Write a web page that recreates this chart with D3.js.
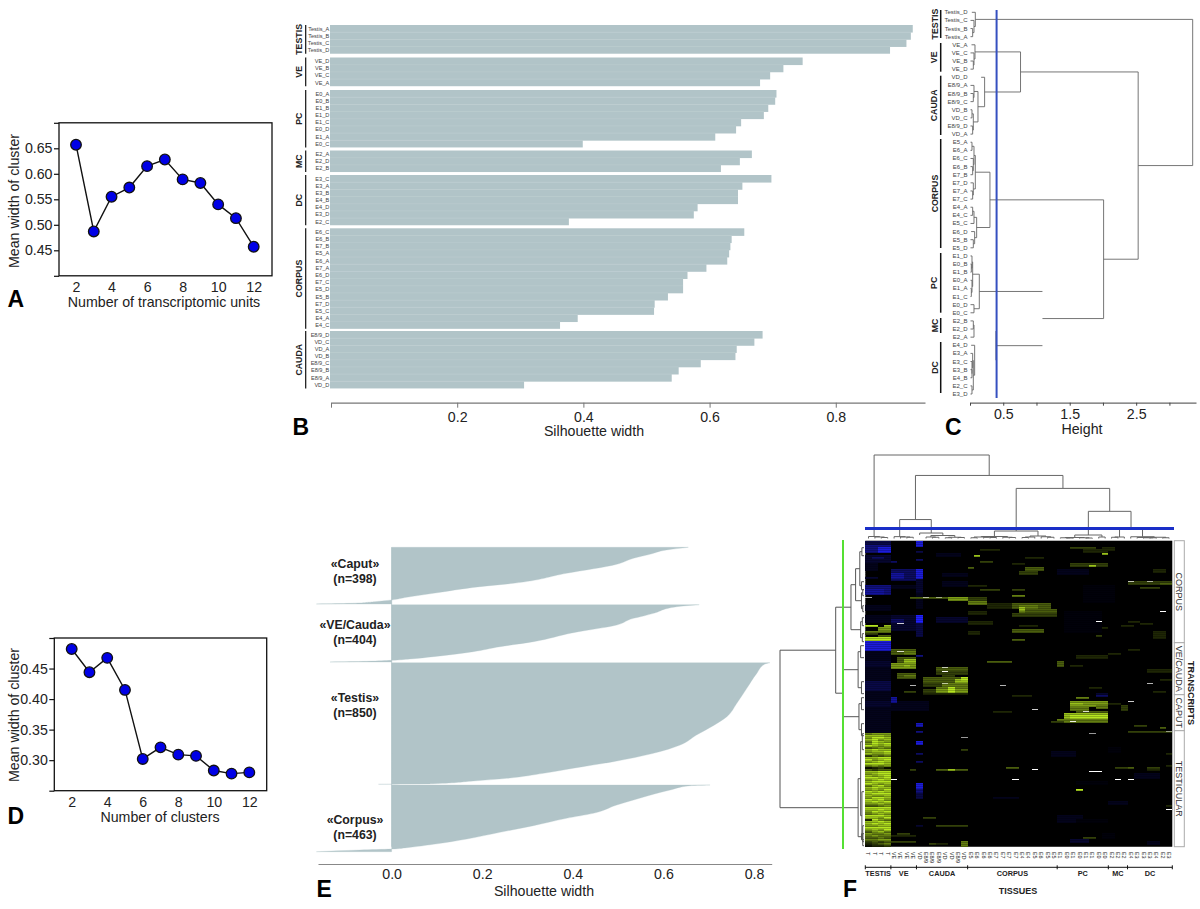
<!DOCTYPE html>
<html><head><meta charset="utf-8">
<script src="https://cdn.jsdelivr.net/npm/d3@7"></script>
<style>
html,body{margin:0;padding:0;background:#fff}
svg{display:block}
text{font-family:"Liberation Sans",Arial,sans-serif;fill:#222}
</style></head><body><svg id="c" width="1200" height="909"></svg>
<script>
// ---------- Panel A / D ----------
const unitsK=[2,3,4,5,6,7,8,9,10,11,12];
const widthA=[.657,.487,.555,.573,.615,.628,.589,.582,.54,.513,.457];
const widthD=[.482,.444,.4675,.415,.302,.321,.309,.307,.283,.278,.280];
// ---------- Panel B ----------
const groupNames=["TESTIS","VE","PC","MC","DC","CORPUS","CAUDA"];
const bSamples=[
 ["Testis_A","Testis_B","Testis_C","Testis_D"],
 ["VE_D","VE_B","VE_C","VE_A"],
 ["E0_A","E0_B","E1_B","E1_D","E1_C","E0_D","E1_A","E0_C"],
 ["E2_A","E2_D","E2_B"],
 ["E3_C","E3_A","E3_B","E4_B","E4_D","E3_D","E2_C"],
 ["E6_C","E6_B","E7_B","E5_A","E6_A","E7_A","E6_D","E7_C","E5_D","E5_B","E7_D","E5_C","E4_A","E4_C"],
 ["E8/9_D","VD_C","VD_A","VD_B","E8/9_C","E8/9_B","E8/9_A","VD_D"]];
const bWidths=[
 [.922,.919,.912,.886],
 [.7475,.717,.696,.680],
 [.706,.704,.693,.686,.650,.642,.609,.399],
 [.667,.648,.618],
 [.698,.652,.645,.645,.581,.575,.377],
 [.655,.635,.633,.631,.628,.595,.565,.558,.558,.534,.513,.512,.391,.363],
 [.684,.671,.643,.641,.586,.551,.540,.306]];
// ---------- Panel C / F top : sample tree ----------
const n=(h,kids,name)=>({h,kids,name});
const sampleTree=n(3.35,[
 n(.08,["Testis_D",n(.06,["Testis_C",n(.04,["Testis_B","Testis_A"])])]),
 n(2.53,[
  n(.76,[
   n(.075,["VE_A",n(.06,["VE_C",n(.05,["VE_B","VE_D"])])]),
   n(.22,["VD_D",n(.12,[
     n(.06,["E8/9_A",n(.05,["E8/9_B","E8/9_C"])]),
     n(.05,[n(.03,["VD_B","VD_C"]),n(.04,["E8/9_D","VD_A"])])])])]),
  n(2.01,[
   n(.30,[
    n(.08,[n(.06,[n(.03,["E5_A","E6_A"]),n(.05,["E6_C",n(.04,["E6_B","E7_B"])])]),
           n(.05,["E7_D",n(.04,["E7_A","E7_C"])])]),
    n(.10,[n(.06,[n(.04,["E4_A","E4_C"]),"E5_C"]),n(.07,["E6_D",n(.05,["E5_B","E5_D"])])])]),
   n(1.09,[
    n(.14,[
     n(.04,[n(.03,["E1_D",n(.02,["E0_B","E1_B"])]),n(.03,["E0_A",n(.02,["E1_A","E1_C"])])]),
     n(.06,["E0_D","E0_C"])]),
    n(.39,[
     n(.06,[n(.05,["E2_B","E2_D"]),"E2_A"],"MC"),
     n(.07,["E4_D",n(.05,[n(.04,["E3_A",n(.03,["E3_C",n(.03,["E3_B","E4_B"])])]),n(.03,["E2_C","E3_D"])])],"DC")],"MCDC")],"PCMCDC")])])]);
const cutHeight=.4;
const cGroups=[["TESTIS",4],["VE",4],["CAUDA",8],["CORPUS",14],["PC",8],["MC",3],["DC",7]];
const cTicks=[0,.5,1,1.5,2,2.5,3];
// ---------- Panel E : silhouette profile per cluster (rank fraction, width) ----------
const clusters=[
 {label:"«Caput»",size:"(n=398)"},
 {label:"«VE/Cauda»",size:"(n=404)"},
 {label:"«Testis»",size:"(n=850)"},
 {label:"«Corpus»",size:"(n=463)"}];
const caputRank=[0,.047,.124,.194,.30,.459,.635,.694,.812,.882,.929,.959,.988,1];
const caputSil=[.655,.607,.570,.534,.497,.386,.269,.195,.092,.033,0,-.037,-.092,-.166];
const veRank=[0,.035,.151,.198,.238,.355,.488,.645,.733,.82,.907,.948,.971,.988,1];
const veSil=[.679,.629,.578,.556,.534,.497,.401,.313,.239,.18,.092,.04,0,-.055,-.136];
const testisRank=[0,.011,.088,.211,.334,.444,.518,.595,.677,.745,.814,.868,.91,.951,.973,.995,.998,1];
const testisSil=[.835,.824,.806,.784,.762,.74,.71,.673,.637,.578,.489,.401,.335,.254,.18,.092,.055,-.029];
const corpusRank=[0,.01,.075,.225,.30,.425,.50,.61,.71,.81,.89,.94,.96,.975,1];
const corpusSil=[.703,.659,.615,.534,.497,.445,.386,.313,.239,.166,.092,.033,0,-.07,-.166];
const eTicks=[0,.2,.4,.6,.8];
// ---------- Panel F : heat map, estimated as streaks [row0,row1,col0,col1,level] ----------
const heatStreaks=[
[55,95,0,3,-2],[0,1,0,3,-4],[2,5,0,3,-6],[3,5,2,3,-9],[7,10,0,3,-3],[8,8,1,2,-5],[11,14,0,1,-2],[18,18,0,1,-3],
[22,26,0,3,-6],[24,26,0,2,-7],[32,34,0,3,-2],[37,40,0,3,-2],[50,54,0,3,-9],[60,62,0,3,-3],[70,74,0,3,-4],[80,82,0,3,-3],
[42,42,0,1,8],[42,42,3,3,7],[43,44,2,3,6],[45,45,0,3,5],[48,49,0,3,8],[47,47,2,3,4],[46,46,0,1,3],
[14,19,4,7,-5],[16,18,4,5,-7],[22,23,4,7,-2],[10,10,4,4,-5],[37,44,4,7,-3],[39,40,4,5,-5],
[0,2,8,8,-9],[5,5,8,8,-4],[9,9,8,8,-5],[14,18,8,8,-9],[19,25,8,8,-3],[26,28,8,8,-2],[37,40,8,8,-10],[41,47,8,8,-4],[29,33,8,8,-2],
[91,92,8,8,-8],[95,95,8,8,-6],[100,101,8,8,-9],[106,106,8,8,-5],[110,110,8,8,-5],[121,123,8,8,-9],[124,125,8,8,-6],[126,128,8,8,-4],[142,142,8,8,-3],[57,57,8,8,-6],
[80,84,4,9,-2],[78,80,4,4,-7],[16,17,12,15,-2],[6,7,11,14,-2],[20,22,12,15,-2],[38,40,11,15,-3],
[28,28,7,15,4],[28,29,13,15,6],
[54,56,4,7,4],[55,56,6,7,5],[58,60,5,7,4],[59,60,6,7,7],[61,63,4,7,6],[62,62,6,6,7],[66,68,5,7,4],[67,67,6,7,5],[75,75,6,7,3],
[63,64,11,15,4],[65,66,11,15,3],[68,70,9,15,4],[69,70,14,15,7],[71,73,11,15,5],[74,76,11,15,6],[73,75,13,13,9],[68,69,15,15,9],[71,72,9,11,3],[74,75,9,10,3],[67,67,12,13,3],[76,76,9,15,2],
[7,7,17,17,7],[10,10,18,19,3],[13,13,16,16,4],[24,24,18,20,3],[24,24,23,24,3],[27,27,23,24,5],[28,29,16,18,3],[30,31,16,18,5],[31,33,19,22,2],[31,33,23,28,4],[32,35,24,26,5],[33,34,24,24,7],[35,36,16,18,2],[34,36,25,29,4],[36,37,23,29,3],[40,41,16,19,2],[44,45,23,27,4],[45,46,16,17,2],[49,49,23,24,4],[42,42,24,26,2],[11,11,23,24,2],[15,16,24,26,3],[8,8,25,27,2],[13,14,25,27,4],[22,22,16,18,2],[4,4,18,20,2],
[3,3,32,35,3],[6,6,37,37,7],[4,5,34,37,2],[11,12,32,37,3],[12,12,35,35,7],[14,14,32,32,-7],[3,4,37,38,2],
[20,21,41,47,3],[21,21,46,47,4],[23,23,43,45,3],[23,23,38,38,3],[14,15,45,46,2],[41,41,43,44,2],[40,40,41,42,2],[45,46,45,46,2],[47,47,36,36,3],[43,43,36,37,2],[42,42,40,41,2],[47,48,45,46,2],
[35,45,31,36,-1],[14,16,30,34,-2],[22,30,34,38,-1],
[60,60,19,22,4],[77,77,23,25,2],[85,85,20,22,2],[113,113,22,23,4],
[78,78,33,34,5],[80,82,32,37,6],[81,81,32,33,7],[83,84,32,34,5],[82,83,36,37,5],[86,89,31,37,7],[87,88,32,37,8],[89,90,30,37,5],[90,90,29,30,3],[77,77,36,37,-5],[76,76,36,37,-3],[85,85,33,37,4],
[82,84,40,40,3],[81,81,38,39,2],[92,92,42,43,3],[93,93,46,46,4],[95,95,41,47,3],[60,62,30,30,4],[62,62,32,33,2],[57,58,33,37,2],[56,56,38,39,2],[54,54,41,42,2],[73,73,35,36,2],[69,69,46,47,2],[75,75,45,46,2],[64,65,44,47,2],
[114,114,11,15,4],[114,114,13,13,7],[114,114,7,7,3],[113,113,39,40,3],[113,113,41,41,4],[113,113,44,45,3],[114,114,44,45,2],
[142,142,11,15,3],[138,138,9,10,3],[151,151,10,10,3],[150,152,15,15,5],[151,151,11,12,2],[147,147,4,7,2],[146,146,5,6,3],[150,150,4,7,3],[148,148,34,35,3],
[149,150,32,34,-3],[130,131,38,40,-2],[137,140,30,33,-2],[146,148,37,38,-1],[105,107,29,32,-2],[103,105,38,39,-1],[116,118,42,45,-2],[128,128,20,23,-2],[139,140,33,37,-1],[120,121,33,37,-1],[150,151,44,45,-2],
[132,132,47,47,2],[112,112,47,47,2],[106,106,47,47,2],[104,104,15,15,3],[124,124,33,33,9]
];
const testisBlockStart=96;
const testisBlock=["5666","7776","6887","7867","5876","6878","8767","4565","7877","6778","7667","3545","7788","8678","6797","8887","5656","1231","4344","7798","6788","7678","8879","6787","7888","8767","5786","7977","6768","8787","7899","7667","6887","8786","7978","6676","4456","8889","7787","6878","5676","8887","7768","2865","7787","7878","6677","8889","6768","4675","6556","5655","4454","5566","3434","2345","1223"];
// pale (missing-like) cells: [row,col0,col1,lightness]
const paleCells=[[28,0,0,.7],[28,9,9,.6],[28,11,11,.5],[41,5,5,.8],[40,36,36,1],[20,41,41,.7],[20,44,44,.6],[35,46,46,1],[55,5,5,.8],[63,12,12,.7],[65,12,12,1],[71,12,12,.6],[72,7,7,.7],[72,21,21,.7],[84,26,26,.8],[85,34,34,.8],[90,32,32,.9],[71,44,44,.7],[80,41,41,.8],[95,47,47,.5],[96,35,35,.6],[98,15,15,.6],[114,26,26,1],[115,35,36,1],[119,4,4,1],[119,23,23,1],[119,39,39,1],[119,41,41,1],[134,47,47,1]];
const rowCount=153;
const rowGroups=[["CORPUS",51],["VE/CAUDA",26],["CAPUT",18],["TESTICULAR",58]];
// row tree (height, leaves are row numbers)
const rowTree=n(1,[
 n(.337,[
  n(.155,[
   n(.10,[n(.05,[n(.025,[3,7]),n(.03,[20,24])]),n(.03,[n(.015,[24,27]),n(.015,[32,35])])]),
   n(.04,[n(.02,[38,42]),n(.02,[46,50])])]),
  n(.25,[
   n(.07,[n(.04,[52,58]),n(.03,[70,76])]),
   n(.06,[n(.03,[78,84]),n(.03,[91,97])])])]),
 n(.07,[
  n(.04,[n(.02,[96,104]),n(.025,[125,149])]),
  n(.03,[n(.015,[142,150]),n(.015,[146,152])])])]);
const tissueGroups=["TESTIS","VE","CAUDA","CORPUS","PC","MC","DC"];

// ---------- helpers ----------
const svg=d3.select("#c");
const barFill="#b1c4c8";
const tickFont=14.2;
function txt(x,y,s,size,opt={}){
  const t=svg.append("text").attr("x",x).attr("y",y).attr("font-size",size).text(s)
    .attr("text-anchor",opt.anchor||"middle").attr("dominant-baseline","central");
  if(opt.bold) t.attr("font-weight","bold");
  if(opt.fill) t.style("fill",opt.fill);
  if(opt.rot!==undefined) t.attr("transform",`rotate(${opt.rot} ${x} ${y})`);
  return t;
}
function panelLetter(x,y,s){svg.append("text").attr("x",x).attr("y",y).attr("font-size",23).attr("font-weight","bold").style("fill","#000").text(s);}

function linePanel(cfg){
  const x=d3.scaleLinear().domain([2,12]).range(cfg.xr);
  const y=d3.scaleLinear().domain(cfg.yd).range(cfg.yr);
  const [L,R]=cfg.box, T=cfg.yr[1], B=cfg.yr[0];
  svg.append("rect").attr("x",L).attr("y",T).attr("width",R-L).attr("height",B-T).attr("fill","none").attr("stroke","#111").attr("stroke-width",1.3);
  const ax=d3.axisBottom(x).tickValues([2,4,6,8,10,12]).tickSize(0).tickPadding(6);
  const gx=svg.append("g").attr("transform",`translate(0,${B})`).call(ax);
  gx.select(".domain").remove(); gx.selectAll("text").attr("font-size",tickFont).attr("font-family",null);
  const ay=d3.axisLeft(y).tickValues(cfg.yt).tickSize(5).tickPadding(1.5).tickFormat(d=>cfg.yl.includes(d)?d3.format(".2f")(d):"");
  const gy=svg.append("g").attr("transform",`translate(${L},0)`).call(ay);
  gy.select(".domain").remove(); gy.selectAll("text").attr("font-size",tickFont).attr("font-family",null);
  gy.selectAll("line").attr("stroke","#111").attr("stroke-width",1.2);
  svg.append("path").attr("d",d3.line().x((d,i)=>x(unitsK[i])).y(d=>y(d))(cfg.v)).attr("fill","none").attr("stroke","#111").attr("stroke-width",1.4);
  svg.selectAll(null).data(cfg.v).join("circle").attr("cx",(d,i)=>x(unitsK[i])).attr("cy",d=>y(d)).attr("r",5.3).attr("fill","#0000e6").attr("stroke","#111").attr("stroke-width",1.3);
  txt(cfg.xlab[0],cfg.xlab[1],cfg.xlab[2],tickFont);
  txt(13.5,cfg.ylabY,"Mean width of cluster",tickFont,{rot:-90});
}
linePanel({v:widthA,xr:[76,253.7],yd:[.40,.70],yr:[275.8,122.8],box:[59,272],yt:[.40,.45,.50,.55,.60,.65,.70],yl:[.45,.50,.55,.60,.65],xlab:[164,302,"Number of transcriptomic units"],ylabY:201});
linePanel({v:widthD,xr:[71.7,249.3],yd:[.25,.50],yr:[790.7,638],box:[54.3,266.7],yt:[.25,.30,.35,.40,.45,.50],yl:[.30,.35,.40,.45],xlab:[160,817,"Number of clusters"],ylabY:715});
panelLetter(7.5,307,"A");panelLetter(7.5,824,"D");

// ---------- Panel B ----------
{
  const x=d3.scaleLinear().domain([0,.9414]).range([331,925]);
  const groupTop=[25,57.5,90,150.5,175,228.3,331];
  const step=7.18;
  const rowY=d3.scaleLinear().domain([0,1]).range([0,step]);
  bWidths.forEach((vals,g)=>{
    const top=groupTop[g];
    const gr=svg.append("g");
    gr.selectAll("rect").data(vals).join("rect")
      .attr("x",330).attr("y",(d,i)=>top+rowY(i)).attr("width",d=>x(d)-330)
      .attr("height",(d,i)=>step+(i<vals.length-1?.4:0)).attr("fill",barFill);
    gr.selectAll("line").data(vals.slice(1)).join("line")
      .attr("x1",330).attr("x2",d=>x(d)).attr("y1",(d,i)=>top+rowY(i+1)).attr("y2",(d,i)=>top+rowY(i+1))
      .attr("stroke","#fff").attr("stroke-opacity",.12).attr("stroke-width",.8);
    gr.selectAll("text").data(bSamples[g]).join("text")
      .attr("x",329.3).attr("y",(d,i)=>top+rowY(i)+step/2).attr("text-anchor","end").attr("dominant-baseline","central").attr("font-size",5.6).style("fill","#444").text(d=>d);
    const h=rowY(vals.length);
    svg.append("line").attr("x1",305.7).attr("x2",305.7).attr("y1",top).attr("y2",top+h).attr("stroke","#111").attr("stroke-width",1.2);
    txt(299.5,top+h/2,groupNames[g],8.8,{bold:true,rot:-90});
  });
  const g=svg.append("g").attr("transform","translate(0,402.7)").call(d3.axisBottom(x).tickValues([0,.2,.4,.6,.8]).tickSize(5).tickSizeOuter(0).tickPadding(4).tickFormat(d=>d?d3.format(".1f")(d):""));
  g.select(".domain").attr("stroke","#777").attr("stroke-width",1.3);
  g.selectAll("line").attr("stroke","#777").attr("stroke-width",1);
  g.selectAll("text").attr("font-size",tickFont).attr("font-family",null);
  txt(594,431,"Silhouette width",tickFont);
  panelLetter(292.5,435,"B");
}

// ---------- trees ----------
function layoutTree(root,leafPos){
  const r=d3.hierarchy(root,d=>d&&d.kids);
  r.eachAfter(nd=>{nd.pos=nd.children?d3.mean(nd.children,c=>c.pos):leafPos(nd.data);});
  return r;
}
const leaves=[];
d3.hierarchy(sampleTree,d=>d&&d.kids).leaves().forEach(l=>leaves.push(l.data));

// Panel C
{
  const x=d3.scaleLinear().domain([0,3.4]).range([970,1196]);
  const y=d3.scalePoint().domain(leaves).range([12.3,394]);
  const root=layoutTree(sampleTree,d=>y(d));
  const g=svg.append("g").attr("stroke","#666").attr("stroke-width",.9).attr("fill","none");
  const hiddenLinks=["MC","DC"], hiddenSpines=["PCMCDC"];
  root.descendants().filter(d=>d.children).forEach(nd=>{
    const X=x(nd.data.h);
    const ys=nd.children.map(c=>c.pos);
    if(!hiddenSpines.includes(nd.data.name)) g.append("line").attr("x1",X).attr("x2",X).attr("y1",d3.min(ys)).attr("y2",d3.max(ys));
    nd.children.forEach(c=>{
      if(c.children){ if(!hiddenLinks.includes(c.data.name)) g.append("line").attr("x1",x(c.data.h)).attr("x2",X).attr("y1",c.pos).attr("y2",c.pos); }
      else g.append("line").attr("x1",Math.max(X-3.5,970.5)).attr("x2",X).attr("y1",c.pos).attr("y2",c.pos);
    });
  });
  svg.selectAll(null).data(leaves).join("text").attr("x",967.5).attr("y",d=>y(d)).attr("text-anchor","end").attr("dominant-baseline","central").attr("font-size",6).style("fill","#444").text(d=>d);
  svg.append("line").attr("x1",x(cutHeight)).attr("x2",x(cutHeight)).attr("y1",10).attr("y2",398).attr("stroke","#3550c0").attr("stroke-width",2);
  const spans=[[10,38],[43,71.7],[75.7,135],[139,248],[253,312.7],[318,333],[342,393]];
  cGroups.forEach((gp,i)=>{
    const s=spans[i];
    svg.append("line").attr("x1",940.7).attr("x2",940.7).attr("y1",s[0]).attr("y2",s[1]).attr("stroke","#111").attr("stroke-width",1.5);
    txt(934.5,(s[0]+s[1])/2,gp[0],8.8,{bold:true,rot:-90});
  });
  const a=svg.append("g").attr("transform","translate(0,402.7)").call(d3.axisBottom(x).tickValues(cTicks).tickSize(3).tickSizeOuter(0).tickPadding(3).tickFormat(d=>(d*2)%2===1?d3.format(".1f")(d):""));
  a.select(".domain").attr("stroke","#666").attr("stroke-width",1.2);
  a.selectAll("line").attr("stroke","#444");
  a.selectAll("text").attr("font-size",tickFont).attr("font-family",null);
  txt(1082,428.5,"Height",tickFont);
  panelLetter(945,435,"C");
}

// ---------- Panel E ----------
{
  const x=d3.scaleLinear().domain([-.1625,.839]).range([318,771.7]);
  const spans=[[547.3,604],[604.7,662],[662.7,784.3],[785,851.7]];
  const ranks=[caputRank,veRank,testisRank,corpusRank], sils=[caputSil,veSil,testisSil,corpusSil];
  const labelY=[[564,579],[625,640],[698,713],[820,835]];
  spans.forEach((s,i)=>{
    const y=d3.scaleLinear().domain([0,1]).range(s);
    const area=d3.area().y((d,j)=>y(ranks[i][j])).x0(x(0)).x1(d=>x(d)).curve(d3.curveMonotoneY);
    svg.append("path").attr("d",area(sils[i])).attr("fill",barFill).attr("stroke",barFill).attr("stroke-width",.3);
    txt(355,labelY[i][0],clusters[i].label,12.3,{bold:true});
    txt(355,labelY[i][1],clusters[i].size,12.3,{bold:true});
  });
  svg.append("line").attr("x1",x(0)).attr("x2",x(0)).attr("y1",spans[0][0]).attr("y2",spans[3][1]-5).attr("stroke",barFill).attr("stroke-width",.8);
  const a=svg.append("g").attr("transform","translate(0,864)").call(d3.axisBottom(x).tickValues(eTicks).tickSize(0).tickSizeOuter(0).tickPadding(5).tickFormat(d3.format(".1f")));
  a.select(".domain").attr("stroke","#888").attr("stroke-width",1.2);
  a.selectAll("text").attr("font-size",tickFont).attr("font-family",null);
  txt(544,891,"Silhouette width",tickFont);
  panelLetter(316.5,897,"E");
}

// ---------- Panel F ----------
{
  const X=d3.scaleBand().domain(d3.range(48)).range([865.3,1172.3]);
  const Y=d3.scaleBand().domain(d3.range(rowCount)).range([540.7,846.7]);
  const greenMix=d3.scalePow().exponent(1.3).domain([0,8]).range(["#000","#b6e620"]).clamp(true);
  const blueMix=d3.scalePow().exponent(1.4).domain([0,10]).range(["#000","#2020ff"]).clamp(true);
  const color=v=>v<0?blueMix(-v):greenMix(v);
  svg.append("rect").attr("x",865.3).attr("y",540.7).attr("width",307).attr("height",306).attr("fill","#000");
  const heat=svg.append("g").attr("shape-rendering","crispEdges");
  heat.selectAll(null).data(heatStreaks).join("rect")
    .attr("x",d=>X(d[2])).attr("y",d=>Y(d[0]))
    .attr("width",d=>X.bandwidth()*(d[3]-d[2]+1)).attr("height",d=>Y.bandwidth()*(d[1]-d[0]+1))
    .attr("fill",d=>color(d[4]));
  testisBlock.forEach((row,i)=>{
    row.split("").forEach((lev,c)=>{
      heat.append("rect").attr("x",X(c)).attr("y",Y(testisBlockStart+i)).attr("width",X.bandwidth()).attr("height",Y.bandwidth()).attr("fill",color(+lev));
    });
  });
  // every row is a thin line with a dark edge, as in the streaky source image
  heat.selectAll(null).data(d3.range(rowCount)).join("rect")
    .attr("x",865.3).attr("y",d=>Y(d)+1).attr("width",307).attr("height",1).attr("fill","#000").attr("opacity",.22);
  heat.selectAll(null).data(paleCells).join("rect")
    .attr("x",d=>X(d[1])).attr("y",d=>Y(d[0])+.5)
    .attr("width",d=>X.bandwidth()*(d[2]-d[1]+1)).attr("height",1)
    .attr("fill","#fff").attr("opacity",d=>d[3]);

  // top tree
  const tx=d3.scalePoint().domain(leaves).range([X(0)+X.bandwidth()/2,X(47)+X.bandwidth()/2]);
  const ty=d3.scaleLinear().domain([0,3.35]).range([538.5,455]);
  const root=layoutTree(sampleTree,d=>tx(d));
  const g=svg.append("g").attr("stroke","#666").attr("stroke-width",1).attr("fill","none");
  root.descendants().filter(d=>d.children).forEach(nd=>{
    const yy=ty(nd.data.h), xs=nd.children.map(c=>c.pos);
    g.append("line").attr("y1",yy).attr("y2",yy).attr("x1",d3.min(xs)).attr("x2",d3.max(xs));
    nd.children.forEach(c=>{
      g.append("line").attr("x1",c.pos).attr("x2",c.pos).attr("y1",yy).attr("y2",c.children?ty(c.data.h):Math.min(yy+2,538.5));
    });
  });
  svg.append("line").attr("x1",865).attr("x2",1174).attr("y1",ty(cutHeight)).attr("y2",ty(cutHeight)).attr("stroke","#1a2fc8").attr("stroke-width",3);

  // left tree
  const lx=d3.scaleLinear().domain([0,1]).range([864,780]);
  const rroot=layoutTree(rowTree,d=>Y(d)+1);
  const lg=svg.append("g").attr("stroke","#555").attr("stroke-width",1).attr("fill","none");
  rroot.descendants().filter(d=>d.children).forEach(nd=>{
    const xx=lx(nd.data.h), ys=nd.children.map(c=>c.pos);
    lg.append("line").attr("x1",xx).attr("x2",xx).attr("y1",d3.min(ys)).attr("y2",d3.max(ys));
    nd.children.forEach(c=>{
      lg.append("line").attr("y1",c.pos).attr("y2",c.pos).attr("x1",xx).attr("x2",c.children?lx(c.data.h):lx(0));
    });
  });
  svg.append("line").attr("x1",843).attr("x2",843).attr("y1",540).attr("y2",849).attr("stroke","#55e033").attr("stroke-width",2);

  // right row-group boxes
  let r0=0;
  rowGroups.forEach(gp=>{
    const top=Y(r0), h=Y.step()*gp[1];
    svg.append("rect").attr("x",1174.3).attr("y",top).attr("width",10).attr("height",h).attr("fill","#fff").attr("stroke","#aaa").attr("stroke-width",1);
    txt(1179,top+h/2,gp[0],9,{rot:90,fill:"#333"});
    r0+=gp[1];
  });
  txt(1191,693,"TRANSCRIPTS",9,{bold:true,rot:90});

  // column labels
  svg.selectAll(null).data(leaves).join("text")
    .attr("transform",d=>`translate(${tx(d)},852) rotate(90)`)
    .attr("dominant-baseline","central").attr("font-size",5.4).style("fill","#222").text(d=>d.split("_")[0]==="Testis"?"T":d.split("_")[0]);

  // tissue groups
  let c0=0;
  const ay=867.3;
  svg.append("line").attr("x1",X(0)).attr("x2",1172.3).attr("y1",ay).attr("y2",ay).attr("stroke","#111").attr("stroke-width",1);
  cGroups.forEach((gp,i)=>{
    const a=X(c0), b=c0+gp[1]<48?X(c0+gp[1]):1172.3;
    svg.append("line").attr("x1",a).attr("x2",a).attr("y1",ay-2).attr("y2",ay+2).attr("stroke","#111");
    if(i===6) svg.append("line").attr("x1",b).attr("x2",b).attr("y1",ay-2).attr("y2",ay+2).attr("stroke","#111");
    txt((a+b)/2,873.5,tissueGroups[i],7.3,{bold:true});
    c0+=gp[1];
  });
  txt(1018,890.7,"TISSUES",9,{bold:true});
  panelLetter(843,897,"F");
}
</script></body></html>
